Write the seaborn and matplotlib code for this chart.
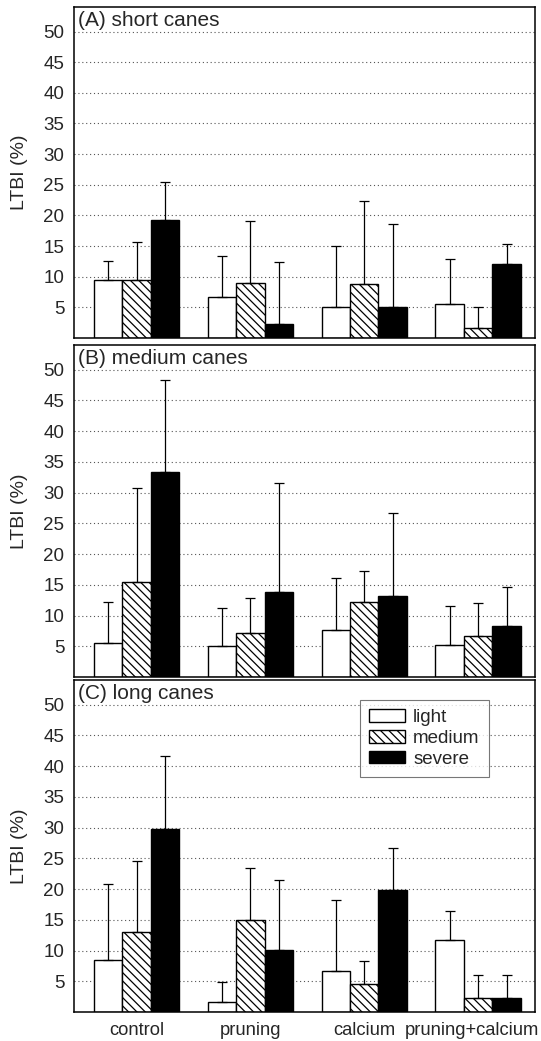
import pandas as pd
import matplotlib
matplotlib.use("Agg")
import matplotlib.pyplot as plt
import matplotlib.transforms as mtransforms
import seaborn as sns

# values (means and upper error, LTBI %)
treatments = ["control", "pruning", "calcium", "pruning+calcium"]
severities = ["light", "medium", "severe"]
panels = ["(A) short canes", "(B) medium canes", "(C) long canes"]

short_light = [9.4, 6.7, 5.0, 5.6]
short_medium = [9.4, 9.0, 8.8, 1.6]
short_severe = [19.2, 2.3, 5.0, 12.0]
short_light_sd = [3.2, 6.6, 10.0, 7.3]
short_medium_sd = [6.3, 10.1, 13.6, 3.4]
short_severe_sd = [6.3, 10.1, 13.6, 3.4]

medium_light = [5.5, 5.0, 7.7, 5.2]
medium_medium = [15.5, 7.2, 12.2, 6.6]
medium_severe = [33.4, 13.9, 13.2, 8.3]
medium_light_sd = [6.7, 6.3, 8.4, 6.4]
medium_medium_sd = [15.3, 5.6, 5.1, 5.4]
medium_severe_sd = [14.9, 17.7, 13.4, 6.3]

long_light = [8.4, 1.6, 6.6, 11.7]
long_medium = [13.0, 14.9, 4.5, 2.2]
long_severe = [29.8, 10.1, 19.9, 2.2]
long_light_sd = [12.5, 3.3, 11.6, 4.7]
long_medium_sd = [11.5, 8.5, 3.8, 3.8]
long_severe_sd = [11.8, 11.4, 6.8, 3.8]

means = [
    [short_light, short_medium, short_severe],
    [medium_light, medium_medium, medium_severe],
    [long_light, long_medium, long_severe],
]
sds = [
    [short_light_sd, short_medium_sd, short_severe_sd],
    [medium_light_sd, medium_medium_sd, medium_severe_sd],
    [long_light_sd, long_medium_sd, long_severe_sd],
]

rows = []
for p, panel in enumerate(panels):
    for s, sev in enumerate(severities):
        for t, treat in enumerate(treatments):
            rows.append([panel, treat, sev, means[p][s][t], sds[p][s][t]])
df = pd.DataFrame(rows, columns=["panel", "treatment", "severity", "value", "sd"])

sns.set_style("white")
plt.rcParams["font.family"] = ["Liberation Sans", "DejaVu Sans"]
plt.rcParams["hatch.linewidth"] = 0.9

fig = plt.figure(figsize=(5.41, 10.41), dpi=100)
W = 541
H = 1041
boxes = [(7, 338), (345, 677), (680, 1012)]
left = 74 / W
width = (535 - 74) / W

for i, panel in enumerate(panels):
    top, bottom = boxes[i]
    ax = fig.add_axes([left, (H - bottom) / H, width, (bottom - top) / H])
    sub = df[df["panel"] == panel]
    sns.barplot(data=sub, x="treatment", y="value", hue="severity",
                order=treatments, hue_order=severities,
                palette={"light": "white", "medium": "white", "severe": "black"},
                edgecolor="black", linewidth=1.0, width=0.75, gap=0,
                errorbar=None, legend=False, ax=ax)
    for bar in ax.containers[1]:
        bar.set_hatch("\\\\\\\\")
    # upper-only error bars
    for s, sev in enumerate(severities):
        cont = ax.containers[s]
        xs = [b.get_x() + b.get_width() / 2 for b in cont]
        hs = [b.get_height() for b in cont]
        err = sub[sub["severity"] == sev].set_index("treatment").loc[treatments, "sd"].values
        ax.errorbar(xs, hs, yerr=[[0] * len(err), err], fmt="none",
                    ecolor="black", elinewidth=0.9, capsize=3.3, capthick=0.9)
    ax.set_xlim(-0.55, 3.5)
    ax.set_ylim(0, 54)
    ax.set_yticks(range(5, 51, 5))
    ax.set_axisbelow(True)
    ax.yaxis.grid(True, linestyle=(0, (1, 2.5)), color="#555555", linewidth=0.8)
    ax.tick_params(axis="both", length=0, labelsize=13.5, pad=7)
    for sp in ax.spines.values():
        sp.set_color("black")
        sp.set_linewidth(1.1)
    ax.set_ylabel("LTBI (%)", fontsize=14, labelpad=11)
    ax.set_xlabel("")
    ax.text(0.008, 0.987, panel, transform=ax.transAxes, ha="left", va="top", fontsize=15)
    if i < 2:
        ax.set_xticklabels([])
    else:
        ax.tick_params(axis="x", labelsize=13.2, pad=7)
        last = ax.get_xticklabels()[-1]
        last.set_transform(last.get_transform() +
                           mtransforms.ScaledTranslation(-6 / 100, 0, fig.dpi_scale_trans))
        handles = [c.patches[0] for c in ax.containers[:3]]
        leg = ax.legend(handles, severities, loc="upper right",
                        bbox_to_anchor=(0.9, 0.94), frameon=True, fancybox=False,
                        edgecolor="#555555", fontsize=13.5, handlelength=1.9,
                        handleheight=0.65, labelspacing=0.2, borderpad=0.5,
                        handletextpad=0.45, borderaxespad=0)
        leg.get_frame().set_linewidth(0.8)

fig.savefig("out.png", dpi=100)
